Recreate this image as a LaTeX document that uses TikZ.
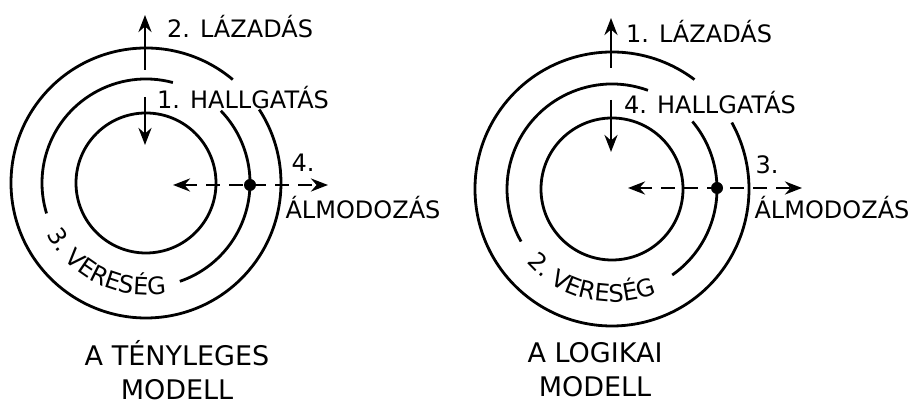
\documentclass[tikz,border=0pt]{standalone}
\usepackage{fontspec}
\setmainfont{DejaVu Sans}
\usetikzlibrary{arrows.meta,decorations.text}

\newcommand\arcfont{\fontsize{24}{28}\selectfont}

\tikzset{
  ring/.style={line width=2.8pt},
  pointer/.style={line width=2.8pt, -{Stealth[length=17pt,width=13pt]}},
  dreamline/.style={line width=2.8pt, {Stealth[length=17pt,width=13pt]}-{Stealth[length=17pt,width=13pt]}, dash pattern=on 14pt off 9pt},
  lbl/.style={font=\fontsize{24}{28}\selectfont, inner sep=0pt},
  modeltitle/.style={font=\fontsize{27}{34}\selectfont, align=center, inner sep=0pt},
  knot/.style={circle, fill, inner sep=0pt, minimum size=12pt},
}

\begin{document}
\begin{tikzpicture}[x=1pt, y=1pt]
  \useasboundingbox (0,0) rectangle (911,406);
  \coordinate (L) at (146,223);
  \coordinate (R) at (612,217);

  % a tenyleges modell
  \draw[ring] (L) circle[radius=70];
  \draw[ring] ([shift={(L)}]-71:104) arc[start angle=-71, end angle=44, radius=104];
  \draw[ring] ([shift={(L)}]75:104) arc[start angle=75, end angle=197, radius=104];
  \draw[ring] ([shift={(L)}]50:135) arc[start angle=50, end angle=393, radius=135];

  \coordinate (lupfrom) at (145,336);
  \coordinate (lupto) at (145,391);
  \coordinate (ldownfrom) at (145,309);
  \coordinate (ldownto) at (145,261);
  \coordinate (lwest) at (173,221);
  \coordinate (least) at (328,221);
  \draw[pointer] (lupfrom) -- (lupto);
  \draw[pointer] (ldownfrom) -- (ldownto);
  \draw[dreamline] (lwest) -- (least);
  \node[knot] (lknot) at (250,221) {};

  \node[lbl] (lrevolt) at (240,379) {2. LÁZADÁS};
  \node[lbl] (lsilence) at (243,308) {1. HALLGATÁS};
  \node[lbl] (ldreamno) at (303,243) {4.};
  \node[lbl] (ldream) at (363,198) {ÁLMODOZÁS};
  \path[decorate, decoration={text along path, text={|\arcfont|3. VERESÉG}, text align=center}]
    ([shift={(L)}]198:112) arc[start angle=198, end angle=290, radius=112];
  \node[modeltitle] (ltitle) at (177,36) {A TÉNYLEGES\\MODELL};

  % a logikai modell
  \draw[ring] (R) circle[radius=71];
  \draw[ring] ([shift={(R)}]-55:105) arc[start angle=-55, end angle=40, radius=105];
  \draw[ring] ([shift={(R)}]70:105) arc[start angle=70, end angle=210, radius=105];
  \draw[ring] ([shift={(R)}]53:137) arc[start angle=53, end angle=389, radius=137];

  \coordinate (rupfrom) at (611,338);
  \coordinate (rupto) at (611,388);
  \coordinate (rdownfrom) at (611,306);
  \coordinate (rdownto) at (611,254);
  \coordinate (rwest) at (628,218);
  \coordinate (reast) at (802,218);
  \draw[pointer] (rupfrom) -- (rupto);
  \draw[pointer] (rdownfrom) -- (rdownto);
  \draw[dreamline] (rwest) -- (reast);
  \node[knot] (rknot) at (717,218) {};

  \node[lbl] (rrevolt) at (699,374) {1. LÁZADÁS};
  \node[lbl] (rsilence) at (710,303) {4. HALLGATÁS};
  \node[lbl] (rdreamno) at (767,241) {3.};
  \node[lbl] (rdream) at (832,198) {ÁLMODOZÁS};
  \path[decorate, decoration={text along path, text={|\arcfont|2. VERESÉG}, text align=center}]
    ([shift={(R)}]212:113) arc[start angle=212, end angle=302, radius=113];
  \node[modeltitle] (rtitle) at (595,36) {A LOGIKAI\\MODELL};
\end{tikzpicture}
\end{document}
